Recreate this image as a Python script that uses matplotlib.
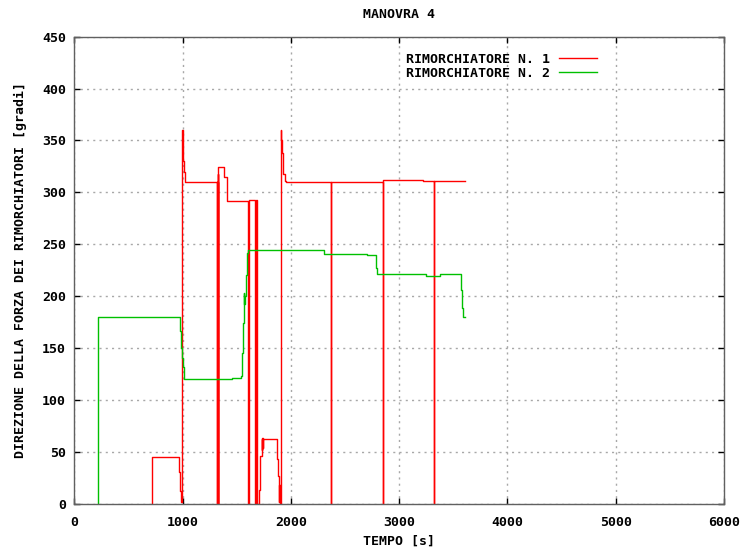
import matplotlib
matplotlib.use("Agg")
import matplotlib.pyplot as plt

# Rimorchiatore N. 1 (step data, tempo [s] / direzione [gradi])
t1 = [715, 716, 720, 970, 980, 985, 994, 1000, 1004, 1008, 1013, 1022,
      1318, 1321, 1323, 1326, 1328, 1330, 1385, 1410, 1607, 1616, 1672, 1678, 1683,
      1707, 1718, 1730, 1733, 1736, 1739, 1742, 1869, 1880, 1887, 1890, 1893, 1897,
      1906, 1912, 1918, 1927, 1946, 1955, 2367, 2368, 2848, 2849, 3217, 3324, 3325, 3612]
d1 = [0, 23, 45, 31, 12, 2, 360, 350, 338, 330, 320, 310,
      0, 310, 0, 318, 0, 324, 315, 292, 0, 293, 0, 293, 0,
      13, 46, 62, 52, 63, 54, 62, 43, 27, 15, 2, 18, 0,
      360, 350, 338, 318, 311, 310, 0, 310, 0, 311.5, 310.5, 0, 310.5, 310.5]

# Rimorchiatore N. 2
t2 = [216, 217, 979, 985, 996, 1004, 1013, 1456, 1539, 1548, 1558, 1565, 1568,
      1571, 1574, 1585, 1595, 1604, 2308, 2700, 2786, 2798, 3247, 3376, 3570,
      3580, 3589, 3612]
d2 = [0, 180, 166, 150, 140, 132, 120, 121.5, 123, 145, 174, 190, 203,
      192, 200, 220, 241.5, 244, 241, 240, 227.5, 221, 219.5, 221, 206,
      189, 180, 180]

xticks = [0, 1000, 2000, 3000, 4000, 5000, 6000]
yticks = [0, 50, 100, 150, 200, 250, 300, 350, 400, 450]

fnt = {"family": "DejaVu Sans Mono", "weight": "bold", "size": 9.5}

fig = plt.figure(figsize=(7.47, 5.53), dpi=100)
ax = fig.add_axes([74.3 / 747, 1 - 503.7 / 553, 649.7 / 747, 467 / 553])

ax.plot(t1, d1, drawstyle="steps-post", color="#ff0000", lw=1.0, label="RIMORCHIATORE N. 1")
ax.plot(t2, d2, drawstyle="steps-post", color="#00c000", lw=1.0, label="RIMORCHIATORE N. 2")

ax.set_xlim(0, 6000)
ax.set_ylim(0, 450)
ax.set_xticks(xticks)
ax.set_yticks(yticks)
ax.set_xticklabels([str(v) for v in xticks], fontdict=fnt)
ax.set_yticklabels([str(v) for v in yticks], fontdict=fnt)
ax.tick_params(direction="in", length=4, width=1, color="black",
               top=True, right=True)
ax.tick_params(axis="x", pad=8.5)
ax.tick_params(axis="y", pad=6)
ax.grid(True, color="#a8a8a8", linestyle=(0, (1.5, 3)), lw=1.0)
for s in ax.spines.values():
    s.set_color("#606060")
    s.set_linewidth(1.0)

leg = ax.legend(loc="upper right", bbox_to_anchor=(0.819, 0.985), frameon=False,
                markerfirst=False, handlelength=2.9, handletextpad=0.7,
                labelspacing=0.08, borderpad=0.2,
                prop={"family": "DejaVu Sans Mono", "weight": "bold", "size": 9.5})

fig.text(399 / 747, 1 - 14 / 553, "MANOVRA 4", ha="center", va="center", fontdict=fnt)
fig.text(399 / 747, 1 - 541 / 553, "TEMPO [s]", ha="center", va="center", fontdict=fnt)
fig.text(20 / 747, 1 - 270 / 553, "DIREZIONE DELLA FORZA DEI RIMORCHIATORI [gradi]",
         ha="center", va="center", rotation=90, fontdict=fnt)

fig.savefig("out.png", dpi=100)
